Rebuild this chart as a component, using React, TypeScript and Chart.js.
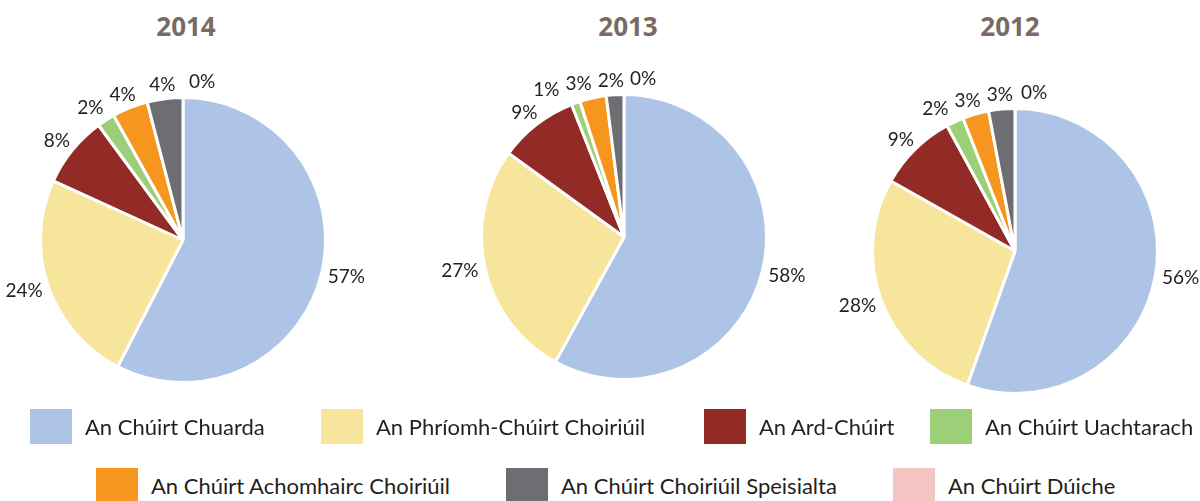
import React, { useEffect, useRef } from "react";
import { Chart, registerables } from "chart.js";
Chart.register(...registerables);

const categories = [
  "An Chúirt Chuarda",
  "An Phríomh-Chúirt Choiriúil",
  "An Ard-Chúirt",
  "An Chúirt Uachtarach",
  "An Chúirt Achomhairc Choiriúil",
  "An Chúirt Choiriúil Speisialta",
  "An Chúirt Dúiche",
];
const colors = ["#aec4e6", "#f6e59a", "#922a25", "#9dcf78", "#f6961f", "#6d6e71", "#f4c6c3"];
const years = ["2014", "2013", "2012"];
const values2014 = [57, 24, 8, 2, 4, 4, 0];
const values2013 = [58, 27, 9, 1, 3, 2, 0];
const values2012 = [56, 28, 9, 2, 3, 3, 0];
const seriesByYear = [values2014, values2013, values2012];

// layout (not data)
const pieCenters = [
  { x: 183, y: 240 },
  { x: 624, y: 237 },
  { x: 1015, y: 251 },
];
const titleCenters = [186, 628, 1010];
const CANVAS = 380;
const PAD = 46;
const legendRows = [
  { top: 409, items: [0, 1, 2, 3], lefts: [30, 321, 704, 930] },
  { top: 468, items: [4, 5, 6], lefts: [96, 506, 893] },
];

const LABEL_FONT = "19px Lato";
const LABEL_H = 14;

const outLabels = {
  id: "outLabels",
  afterDatasetsDraw(chart: any) {
    const ctx = chart.ctx;
    const meta = chart.getDatasetMeta(0);
    const data = chart.data.datasets[0].data as number[];
    ctx.save();
    ctx.font = LABEL_FONT;
    ctx.fillStyle = "#231f20";
    ctx.textAlign = "center";
    ctx.textBaseline = "middle";
    const boxes = meta.data.map((arc: any, i: number) => {
      const p = arc.getProps(["x", "y", "startAngle", "endAngle", "outerRadius"], true);
      const text = data[i] + "%";
      const w = ctx.measureText(text).width;
      const mid = (p.startAngle + p.endAngle) / 2;
      const dx = Math.cos(mid);
      const dy = Math.sin(mid);
      let cx: number, cy: number;
      if (data[i] === 0) {
        cx = p.x + 6 + w / 2;
        cy = p.y - p.outerRadius - 9 - LABEL_H / 2;
      } else {
        const r = p.outerRadius + 7;
        cx = p.x + dx * r + (dx * w) / 2;
        cy = p.y + dy * r + (dy * LABEL_H) / 2;
      }
      return { text, cx, cy, w };
    });
    const placed: any[] = [];
    for (let i = boxes.length - 1; i >= 0; i--) {
      const b = boxes[i];
      for (const q of placed) {
        if (
          Math.abs(b.cy - q.cy) < LABEL_H &&
          b.cx + b.w / 2 + 6 > q.cx - q.w / 2 &&
          b.cx - b.w / 2 < q.cx + q.w / 2
        ) {
          b.cx = q.cx - q.w / 2 - 6 - b.w / 2;
        }
      }
      placed.push(b);
    }
    boxes.forEach((b: any) => ctx.fillText(b.text, b.cx, b.cy));
    ctx.restore();
  },
};

function Pie({ values, center }: { values: number[]; center: { x: number; y: number } }) {
  const ref = useRef<HTMLCanvasElement>(null);
  useEffect(() => {
    const chart = new Chart(ref.current as HTMLCanvasElement, {
      type: "pie",
      data: {
        labels: categories,
        datasets: [
          {
            data: values,
            backgroundColor: colors,
            borderColor: "#ffffff",
            borderWidth: 3,
          },
        ],
      },
      options: {
        animation: false,
        responsive: false,
        layout: { padding: PAD },
        plugins: { legend: { display: false }, tooltip: { enabled: false } },
      },
      plugins: [outLabels],
    });
    return () => chart.destroy();
  }, [values]);
  return (
    <canvas
      ref={ref}
      width={CANVAS}
      height={CANVAS}
      style={{
        position: "absolute",
        left: center.x - CANVAS / 2,
        top: center.y - CANVAS / 2,
        width: CANVAS,
        height: CANVAS,
      }}
    />
  );
}

export default function App() {
  useEffect(() => {
    document.body.style.margin = "0";
  }, []);
  return (
    <div
      style={{
        position: "relative",
        width: 1200,
        height: 501,
        overflow: "hidden",
        background: "#ffffff",
        fontFamily: "Lato, sans-serif",
      }}
    >
      {seriesByYear.map((vals, i) => (
        <Pie key={years[i]} values={vals} center={pieCenters[i]} />
      ))}
      {years.map((y, i) => (
        <div
          key={y}
          style={{
            position: "absolute",
            left: titleCenters[i] - 60,
            width: 120,
            top: 10,
            textAlign: "center",
            fontFamily: "'Open Sans', sans-serif",
            fontWeight: 700,
            fontSize: 26,
            lineHeight: "32px",
            color: "#7a6a62",
          }}
        >
          {y}
        </div>
      ))}
      {legendRows.map((row, r) =>
        row.items.map((ci, k) => (
          <div
            key={ci}
            style={{
              position: "absolute",
              left: row.lefts[k],
              top: row.top,
              display: "flex",
              alignItems: "center",
              height: 35,
              whiteSpace: "nowrap",
            }}
          >
            <div style={{ width: 42, height: 35, background: colors[ci] }} />
            <span
              style={{
                marginLeft: 13,
                fontSize: 22,
                color: "#231f20",
                fontFamily: "Lato, sans-serif",
              }}
            >
              {categories[ci]}
            </span>
          </div>
        ))
      )}
    </div>
  );
}
